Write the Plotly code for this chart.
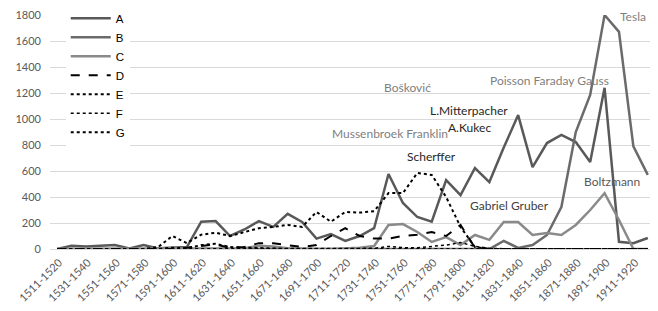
import plotly.graph_objects as go

categories = [f"{y}-{y+9}" for y in range(1511, 1931, 10)]

series_a = [0, 25, 20, 25, 30, 5, 30, 5, 10, 15, 210, 215, 100, 150, 215, 170, 270, 208, 80, 115,
            62, 100, 160, 577, 354, 246, 210, 530, 415, 623, 515, 780, 1030, 630, 815, 877, 823, 670,
            1240, 55, 45, 85]
series_b = [0] * 30 + [0, 62, 8, 30, 108, 323, 900, 1185, 1800, 1670, 790, 570]
series_c = [0, 0, 0, 0, 0, 0, 0, 0, 0, 0, 0, 0, 0, 5, 25, 20, 5, 0, 0, 0,
            5, 10, 23, 185, 192, 131, 54, 92, 30, 108, 70, 208, 208, 108, 123, 108, 185, 300,
            430, 223, 0, 0]
series_d = [0, 0, 0, 0, 0, 0, 0, 0, 0, 10, 20, 35, 10, 15, 45, 45, 30, 15, 30, 100,
            160, 100, 80, 80, 100, 110, 130, 100, 185, 10, 0, 0, 0, 0, 0, 0, 0, 0, 0, 0, 0, 0]
series_e = [0, 0, 0, 0, 0, 0, 0, 15, 100, 45, 110, 125, 100, 130, 160, 170, 185, 170, 285, 210,
            285, 280, 290, 430, 430, 585, 570, 400, 170, 15, 0, 0, 0, 0, 0, 0, 0, 0, 0, 0, 0, 0]
series_f = [0] * 22 + [5, 20, 10, 10, 20, 30, 50, 20, 5, 0, 0, 0, 0, 0, 0, 0, 0, 0, 0, 0]
series_g = [0, 0, 0, 0, 0, 0, 0, 0, 10, 5, 30, 40, 15, 10, 5, 5, 0, 0, 0, 0,
            0, 0, 0, 0, 0, 0, 0, 0, 0, 0, 0, 0, 0, 0, 0, 0, 0, 0, 0, 0, 0, 0]

y_ticks = [0, 200, 400, 600, 800, 1000, 1200, 1400, 1600, 1800]
x_tick_labels = categories[::2]

labels = [
    ("Tesla", 40.0, 1800, "#7f7f7f", -1),
    ("Poisson Faraday Gauss", 34.2, 1300, "#7f7f7f", 0),
    ("Bošković", 24.3, 1246, "#7f7f7f", 0),
    ("L.Mitterpacher", 28.6, 1062, "#262626", 0),
    ("A.Kukec", 28.6, 938, "#262626", 0),
    ("Mussenbroek Franklin", 23.1, 892, "#7f7f7f", 0),
    ("Scherffer", 26.0, 715, "#262626", 0),
    ("Gabriel Gruber", 31.4, 331, "#404040", 0),
    ("Boltzmann", 38.5, 523, "#595959", 0),
]

styles = [
    ("A", series_a, "#595959", 2.5, "solid"),
    ("B", series_b, "#6b6b6b", 2.5, "solid"),
    ("C", series_c, "#8a8a8a", 2.5, "solid"),
    ("D", series_d, "#000000", 2, "dash"),
    ("E", series_e, "#000000", 2, "dot"),
    ("F", series_f, "#000000", 1.5, "dot"),
    ("G", series_g, "#000000", 2, "dot"),
]

fig = go.Figure()
for name, vals, color, w, dash in styles:
    fig.add_trace(go.Scatter(x=categories, y=vals, name=name, mode="lines",
                             line=dict(color=color, width=w, dash=dash)))

for text, xi, yv, col, ys in labels:
    fig.add_annotation(x=xi, y=yv, text=text, showarrow=False, xref="x", yref="y", yshift=ys,
                       font=dict(family="Lato", size=12, color=col))

# partial top gridline as in the reference
fig.add_shape(type="line", xref="x", yref="y", x0=-0.5, x1=32.8, y0=1800, y1=1800,
              line=dict(color="white", width=2), layer="between")

fig.update_layout(
    width=658, height=311,
    margin=dict(l=42, r=11, t=7, b=70, autoexpand=False),
    paper_bgcolor="white", plot_bgcolor="white",
    showlegend=True,
    legend=dict(x=0.026, y=1.048, xanchor="left", yanchor="top", bgcolor="white",
                font=dict(family="Liberation Sans", size=11.5, color="#000000"),
                itemwidth=40, tracegroupgap=0),
)
fig.update_xaxes(type="category", categoryorder="array", categoryarray=categories,
                 range=[-0.5, len(categories) - 0.5],
                 tickmode="array", tickvals=x_tick_labels, ticktext=x_tick_labels,
                 tickangle=-45, showgrid=False, showline=True, linecolor="#d9d9d9", linewidth=1,
                 ticks="", ticklabelshift=2, ticklabelstandoff=2, ticklabeloverflow="allow",
                 tickfont=dict(family="Lato", size=11, color="#595959"))
fig.update_yaxes(range=[0, 1800], tickmode="array", tickvals=y_ticks,
                 showgrid=True, gridcolor="#d9d9d9", gridwidth=1, zeroline=False,
                 showline=False, ticks="", ticklabelstandoff=8, ticklabeloverflow="allow",
                 tickfont=dict(family="Lato", size=11, color="#595959"))

fig.write_html("out.html")
